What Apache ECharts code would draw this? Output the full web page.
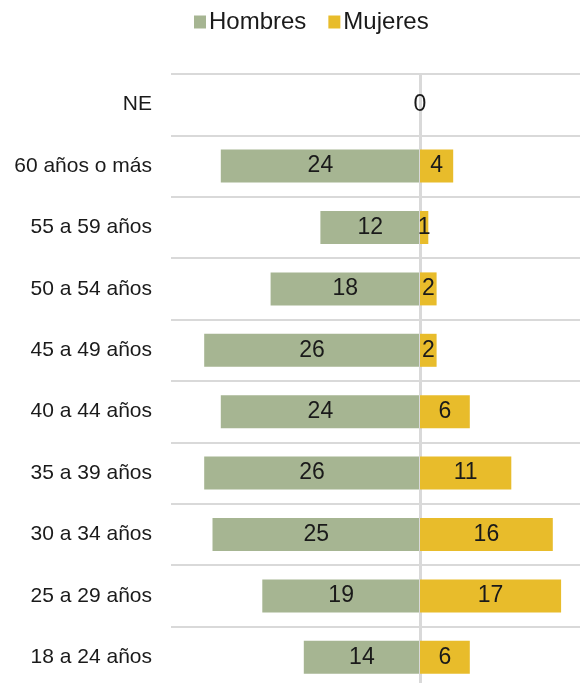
<!DOCTYPE html>
<html>
<head>
<meta charset="utf-8">
<script src="https://cdn.jsdelivr.net/npm/echarts@6/dist/echarts.min.js"></script>
<style>
  html, body { margin: 0; padding: 0; background: #fff; overflow: hidden; }
  #chart-container { width: 586px; height: 688px; }
</style>
</head>
<body>
<div id="chart-container"></div>
<script>
// categorias de arriba hacia abajo
var categorias = ['NE', '60 años o más', '55 a 59 años', '50 a 54 años', '45 a 49 años',
  '40 a 44 años', '35 a 39 años', '30 a 34 años', '25 a 29 años', '18 a 24 años'];
var hombres = [null, 24, 12, 18, 26, 24, 26, 25, 19, 14];
var mujeres = [0, 4, 1, 2, 2, 6, 11, 16, 17, 6];

var fuente = 'Liberation Sans, Arial, sans-serif';

var dom = document.getElementById('chart-container');
var myChart = echarts.init(dom, null, { renderer: 'canvas' });

var option = {
  animation: false,
  textStyle: { fontFamily: fuente, color: '#1a1a1a' },
  legend: {
    left: 189,
    top: 5,
    itemWidth: 12,
    itemHeight: 13,
    itemGap: 22,
    icon: 'rect',
    textStyle: { fontFamily: fuente, fontSize: 24, color: '#1a1a1a', padding: [0, 0, 0, -2] },
    data: ['Hombres', 'Mujeres']
  },
  grid: { left: 171, right: 0, top: 74, bottom: 0, containLabel: false },
  xAxis: {
    type: 'value',
    min: -30,
    max: 20,
    show: false
  },
  yAxis: {
    type: 'category',
    inverse: true,
    data: categorias,
    axisLine: { show: false },
    axisTick: { show: false },
    axisLabel: { margin: 19, fontFamily: fuente, fontSize: 21, color: '#1a1a1a' },
    splitLine: { show: true, lineStyle: { color: '#d9d9d9', width: 2 } }
  },
  series: [
    {
      name: 'Hombres',
      type: 'bar',
      z: 1,
      barWidth: 33,
      barGap: '-100%',
      itemStyle: { color: '#a6b592' },
      label: {
        show: true,
        position: 'inside',
        fontFamily: fuente,
        fontSize: 23,
        color: '#1a1a1a',
        formatter: function (p) { return Math.abs(p.value); }
      },
      // linea vertical en cero, entre las dos series
      markLine: {
        z: 2,
        silent: true,
        symbol: 'none',
        label: { show: false },
        lineStyle: { color: '#d9d9d9', width: 3, type: 'solid' },
        data: [{ xAxis: 0 }]
      },
      data: hombres.map(function (v) { return v === null ? null : -v; })
    },
    {
      name: 'Mujeres',
      type: 'bar',
      z: 3,
      barWidth: 33,
      itemStyle: { color: '#e8bc2b' },
      label: {
        show: true,
        position: 'inside',
        fontFamily: fuente,
        fontSize: 23,
        color: '#1a1a1a'
      },
      data: mujeres
    }
  ]
};

myChart.setOption(option);
</script>
</body>
</html>
